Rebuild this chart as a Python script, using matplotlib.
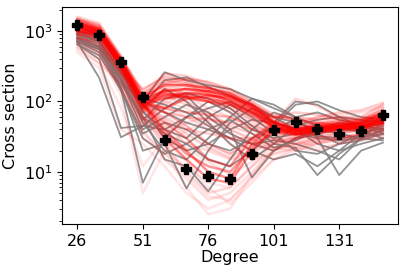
import matplotlib
matplotlib.use("Agg")
import matplotlib.pyplot as plt
import numpy as np

# observed cross sections (black markers)
observed = [1226, 882, 358, 115, 28.2, 10.9, 8.7, 7.8, 18.2, 39.1, 50.5, 40, 34.3, 37.9, 64]
tick_positions = [0, 3, 6, 9, 12]
tick_labels = ["26", "51", "76", "101", "131"]

# posterior model curves (red) and their weights
red_curves = [
    [1300, 1050, 380, 105, 140, 150, 140, 120, 85, 50, 38, 42, 45, 46, 55],
    [1150, 950, 360, 95, 120, 130, 125, 105, 75, 45, 35, 40, 44, 45, 52],
    [1400, 1100, 400, 115, 170, 170, 155, 130, 90, 52, 40, 44, 47, 48, 60],
    [1000, 900, 340, 90, 110, 120, 110, 95, 70, 42, 34, 38, 42, 44, 50],
    [1250, 1000, 370, 100, 80, 110, 120, 115, 80, 50, 40, 45, 43, 42, 58],
    [1200, 980, 350, 98, 130, 115, 100, 90, 65, 44, 37, 41, 46, 50, 65],
    [1500, 1200, 420, 130, 200, 180, 150, 120, 80, 50, 40, 45, 50, 50, 70],
    [900, 800, 300, 150, 220, 200, 160, 130, 90, 55, 45, 50, 55, 55, 80],
    [1100, 950, 330, 80, 150, 130, 140, 110, 90, 60, 55, 50, 45, 55, 75],
    [800, 700, 250, 120, 180, 170, 130, 100, 70, 60, 60, 55, 60, 60, 90],
    [1200, 1000, 380, 95, 40, 20, 10, 8, 25, 45, 38, 40, 42, 44, 55],
    [1300, 1050, 360, 90, 30, 15, 8, 7, 20, 40, 35, 38, 40, 42, 50],
    [1000, 900, 340, 85, 50, 30, 15, 12, 30, 50, 40, 42, 45, 48, 60],
    [1100, 950, 370, 100, 35, 18, 12, 10, 22, 38, 33, 36, 40, 40, 48],
    [600, 400, 150, 40, 15, 8, 4, 5, 10, 20, 25, 30, 35, 40, 45],
    [500, 300, 40, 25, 12, 5, 3, 4, 8, 15, 20, 25, 28, 30, 35],
    [700, 500, 200, 35, 20, 6, 2.5, 3, 9, 18, 22, 28, 30, 35, 40],
    [1600, 1300, 450, 60, 25, 10, 5, 6, 12, 25, 30, 35, 38, 42, 50],
    [900, 600, 250, 70, 150, 120, 80, 60, 40, 30, 25, 28, 30, 35, 45],
    [550, 350, 180, 45, 80, 60, 40, 30, 20, 25, 28, 30, 32, 34, 38],
    [1400, 1100, 300, 55, 90, 140, 100, 70, 50, 35, 30, 32, 36, 40, 42],
    [800, 650, 280, 65, 35, 50, 60, 40, 30, 22, 24, 26, 28, 30, 32],
    [1000, 700, 220, 50, 100, 80, 50, 25, 15, 18, 22, 20, 25, 30, 35],
    [650, 450, 170, 30, 18, 12, 7, 6, 12, 20, 28, 22, 25, 28, 30],
    [1200, 900, 320, 75, 130, 100, 70, 45, 35, 28, 30, 35, 40, 50, 70],
    [1350, 1000, 300, 80, 45, 25, 20, 15, 18, 30, 45, 60, 65, 70, 85],
    [750, 550, 260, 60, 28, 14, 6, 3.5, 7, 15, 22, 26, 30, 34, 38],
    [1100, 850, 290, 85, 160, 150, 120, 90, 60, 45, 50, 60, 70, 75, 95],
    [800, 500, 120, 5, 20, 40, 50, 35, 25, 20, 25, 30, 35, 38, 40],
    [600, 350, 80, 12, 30, 60, 45, 30, 25, 22, 20, 25, 30, 32, 36],
    [1450, 1150, 410, 120, 140, 110, 100, 80, 55, 40, 42, 48, 52, 55, 68],
    [950, 820, 310, 88, 70, 45, 25, 18, 28, 42, 36, 39, 41, 43, 52],
    [1050, 880, 330, 92, 80, 70, 65, 60, 45, 36, 34, 37, 40, 43, 50],
    [1500, 1250, 430, 140, 240, 190, 130, 95, 65, 50, 110, 85, 60, 55, 60],
    [700, 480, 160, 50, 25, 9, 4.5, 4, 9, 22, 30, 34, 36, 38, 42],
    [1300, 1000, 350, 110, 250, 230, 180, 140, 95, 60, 70, 65, 55, 50, 65],
    [1000, 850, 320, 100, 180, 210, 190, 150, 100, 65, 55, 48, 50, 52, 70],
    [1150, 900, 340, 95, 70, 60, 55, 50, 40, 35, 38, 42, 44, 46, 55],
    [900, 750, 290, 85, 60, 40, 35, 30, 30, 38, 40, 45, 48, 50, 62],
    [850, 600, 210, 55, 30, 22, 14, 9, 14, 28, 35, 32, 30, 33, 40],
    [1250, 950, 330, 90, 55, 35, 22, 16, 24, 36, 42, 46, 48, 52, 66],
    [1000, 780, 270, 75, 120, 90, 60, 40, 28, 25, 32, 38, 42, 46, 58],
    [1150, 920, 300, 70, 100, 160, 140, 100, 70, 48, 44, 40, 38, 40, 46],
]
red_weights = [0.65, 0.6, 0.55, 0.55, 0.5, 0.5, 0.3, 0.25, 0.3, 0.25,
               0.45, 0.45, 0.4, 0.4, 0.12, 0.1, 0.1, 0.15, 0.15, 0.12,
               0.15, 0.12, 0.12, 0.1, 0.2, 0.15, 0.1, 0.2, 0.1, 0.1,
               0.3, 0.3, 0.3, 0.15, 0.1, 0.2, 0.25, 0.25, 0.2, 0.12, 0.2,
               0.15, 0.15]

# prior model curves (grey)
grey_curves = [
    [900, 700, 250, 100, 260, 200, 170, 150, 110, 80, 60, 45, 40, 38, 30],
    [800, 600, 200, 90, 200, 220, 160, 120, 90, 60, 50, 40, 35, 30, 28],
    [700, 217, 31, 45, 40, 60, 80, 100, 70, 50, 100, 90, 60, 45, 40],
    [650, 400, 42, 45, 80, 120, 60, 35, 25, 20, 30, 40, 50, 45, 35],
    [1000, 800, 150, 7, 30, 60, 100, 70, 40, 30, 35, 30, 28, 30, 40],
    [750, 550, 160, 20, 25, 5.8, 20, 50, 80, 60, 40, 25, 20, 25, 30],
    [700, 500, 180, 60, 15, 12, 5.3, 15, 40, 70, 55, 35, 25, 28, 35],
    [850, 650, 220, 50, 20, 15, 30, 60, 110, 90, 60, 30, 9, 20, 26],
    [950, 750, 260, 70, 40, 30, 60, 90, 60, 35, 20, 18, 25, 35, 45],
    [750, 600, 200, 40, 60, 90, 70, 40, 8.3, 20, 30, 35, 40, 42, 48],
    [1100, 900, 300, 100, 70, 50, 40, 30, 25, 28, 25, 20, 15, 30, 50],
    [900, 700, 280, 80, 150, 100, 50, 25, 15, 25, 45, 55, 60, 55, 50],
    [650, 450, 150, 35, 50, 40, 25, 20, 30, 45, 90, 100, 75, 60, 55],
    [800, 600, 230, 60, 35, 25, 15, 12, 20, 35, 60, 70, 55, 45, 40],
    [1000, 850, 300, 110, 90, 70, 45, 30, 20, 15, 18, 12, 20, 35, 42],
    [700, 550, 200, 55, 110, 130, 110, 80, 45, 25, 22, 9, 18, 30, 38],
    [900, 720, 260, 75, 30, 20, 25, 40, 55, 50, 40, 32, 30, 32, 34],
    [750, 580, 140, 30, 18, 25, 40, 55, 35, 22, 28, 38, 45, 50, 55],
]

plt.rcParams["font.family"] = ["DejaVu Sans"]
fig = plt.figure(figsize=(4.03, 2.72), dpi=100)
ax = fig.add_axes([0.154, 0.176, 0.834, 0.799])

x = np.arange(len(observed))

for c in grey_curves:
    ax.plot(x, c, color="grey", alpha=0.85, lw=1.3, zorder=1)
for c, w in sorted(zip(red_curves, red_weights), key=lambda t: t[1]):
    ax.plot(x, c, color="red", alpha=w, lw=1.8, zorder=2)

ax.plot(x, observed, "P", color="black", markersize=6.5, zorder=5)

ax.set_yscale("log")
ax.set_xticks(tick_positions)
ax.set_xticklabels(tick_labels)
ax.tick_params(labelsize=11.5)
ax.set_xlabel("Degree", fontsize=11.5, labelpad=1)
ax.set_ylabel("Cross section", fontsize=11.5)

fig.savefig("out.png", dpi=100)
